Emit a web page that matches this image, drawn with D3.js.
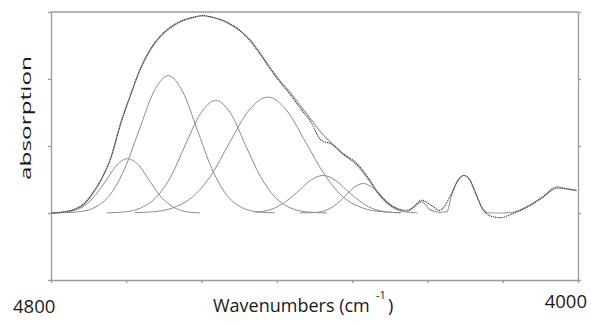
<!DOCTYPE html>
<html>
<head>
<meta charset="utf-8">
<script src="https://cdn.jsdelivr.net/npm/d3@7"></script>
<style>
  body { margin: 0; background: white; }
  svg { display: block; font-family: "Open Sans", sans-serif; background: white; }
  .axis path, .axis line { stroke: #9a9a9a; stroke-width: 1.3; }
  .frame { stroke: #9a9a9a; stroke-width: 1.3; }
  .peak { fill: none; stroke: #8c8c8c; stroke-width: 1; }
  .fit { fill: none; stroke: #a0a0a0; stroke-width: 1.2; }
  .measured { fill: none; stroke: #2a2a2a; stroke-width: 1.15; stroke-dasharray: 1 0.9; }
  .label { fill: #1a1a1a; }
</style>
</head>
<body>
<svg id="plot"></svg>
<script>
// etiquetas y ticks
const xLabels = ["4800", "4000"];
const yTicks = [-1, 0, 1, 2, 3];

// espectro medido (puntos)
const measuredWn = [4799, 4779, 4764, 4751, 4738, 4726, 4710, 4693, 4680, 4665, 4650, 4635, 4619, 4604, 4584, 4569, 4559, 4533, 4513, 4498, 4483, 4468, 4452, 4437, 4422, 4407, 4389, 4374, 4357, 4336, 4316, 4306, 4290, 4275, 4260, 4251, 4237, 4225, 4210, 4192, 4182, 4173, 4164, 4156, 4144, 4134, 4118, 4099, 4073, 4053, 4032, 4017, 4002];
const measuredAbs = [0, 0.02, 0.06, 0.13, 0.28, 0.46, 0.80, 1.38, 1.74, 2.14, 2.43, 2.63, 2.77, 2.86, 2.92, 2.95, 2.93, 2.85, 2.72, 2.57, 2.38, 2.16, 1.95, 1.77, 1.57, 1.38, 1.08, 1.03, 0.89, 0.74, 0.49, 0.34, 0.16, 0.07, 0.04, 0.08, 0.19, 0.13, 0.04, 0.29, 0.49, 0.56, 0.49, 0.31, 0.05, -0.04, -0.07, -0.01, 0.11, 0.24, 0.39, 0.36, 0.34];

// ajuste total (linea gris)
const fitWn = [4799, 4779, 4764, 4751, 4738, 4726, 4710, 4693, 4680, 4665, 4650, 4635, 4619, 4604, 4584, 4569, 4559, 4533, 4513, 4498, 4483, 4468, 4452, 4437, 4422, 4407, 4389, 4374, 4357, 4336, 4316, 4301, 4275, 4260, 4251, 4237, 4225, 4210, 4199, 4192, 4182, 4173, 4164, 4156, 4144, 4134, 4118, 4099, 4073, 4053, 4032, 4017, 4002];
const fitAbs = [0, 0.015, 0.05, 0.12, 0.27, 0.46, 0.80, 1.37, 1.74, 2.13, 2.42, 2.62, 2.76, 2.85, 2.92, 2.94, 2.93, 2.84, 2.72, 2.59, 2.39, 2.18, 1.97, 1.80, 1.61, 1.42, 1.19, 1.04, 0.88, 0.72, 0.47, 0.26, 0.05, 0.015, 0.07, 0.17, 0.05, 0.01, 0.02, 0.26, 0.49, 0.56, 0.49, 0.31, 0.05, 0, 0, 0.01, 0.12, 0.24, 0.37, 0.36, 0.33];

// componentes
const peak1Wn = [4798, 4782, 4765, 4749, 4733, 4716, 4700, 4684, 4667, 4651, 4635, 4618, 4602, 4586, 4574];
const peak1Abs = [0.002, 0.009, 0.036, 0.110, 0.263, 0.491, 0.715, 0.81, 0.715, 0.491, 0.263, 0.110, 0.036, 0.009, 0.003];
const peak2Wn = [4798, 4776, 4754, 4732, 4710, 4688, 4666, 4644, 4622, 4600, 4578, 4556, 4534, 4512, 4490, 4468, 4460];
const peak2Abs = [0.001, 0.005, 0.023, 0.090, 0.277, 0.666, 1.243, 1.809, 2.05, 1.809, 1.243, 0.666, 0.277, 0.090, 0.023, 0.005, 0.003];
const peak3Wn = [4715, 4709, 4686, 4664, 4641, 4618, 4596, 4573, 4550, 4527, 4505, 4482, 4459, 4436, 4414, 4391, 4381];
const peak3Abs = [0.002, 0.004, 0.019, 0.074, 0.227, 0.545, 1.019, 1.483, 1.68, 1.483, 1.019, 0.545, 0.227, 0.074, 0.019, 0.004, 0.002];
const peak4Wn = [4673, 4644, 4615, 4586, 4557, 4529, 4500, 4471, 4442, 4413, 4384, 4356, 4327, 4298, 4269];
const peak4Abs = [0.004, 0.019, 0.076, 0.234, 0.562, 1.049, 1.527, 1.73, 1.527, 1.049, 0.562, 0.234, 0.076, 0.019, 0.004];
const peak5Wn = [4490, 4478, 4460, 4442, 4423, 4405, 4387, 4369, 4351, 4332, 4314, 4296, 4278, 4270];
const peak5Abs = [0.010, 0.025, 0.076, 0.182, 0.340, 0.494, 0.56, 0.494, 0.340, 0.182, 0.076, 0.025, 0.006, 0.003];
const peak6Wn = [4422, 4403, 4390, 4378, 4365, 4352, 4339, 4326, 4313, 4300, 4287, 4274, 4261, 4248, 4244];
const peak6Abs = [0.001, 0.005, 0.019, 0.060, 0.143, 0.267, 0.388, 0.44, 0.388, 0.267, 0.143, 0.060, 0.019, 0.005, 0.003];

const width = 591;
const height = 325;
const area = {left: 51, right: 578, top: 12, bottom: 280};

const plot = d3.select("#plot")
    .attr("width", width)
    .attr("height", height);

const xScale = d3.scaleLinear()
    .domain([4800, 4000])
    .range([area.left, area.right]);

const yScale = d3.scaleLinear()
    .domain([-1, 3])
    .range([area.bottom, area.top]);

// 7 divisiones iguales en el eje x
const xTickValues = d3.range(0, 8).map((i) => 4800 - i * 800 / 7);

const line = d3.line()
    .x((d) => xScale(d[0]))
    .y((d) => yScale(d[1]))
    .curve(d3.curveMonotoneX);

// ejes
plot.append("g")
    .attr("class", "axis")
    .attr("transform", "translate(0," + area.bottom + ")")
    .call(d3.axisBottom(xScale).tickValues(xTickValues).tickSizeInner(3).tickSizeOuter(0).tickFormat(""));

plot.append("g")
    .attr("class", "axis")
    .attr("transform", "translate(" + area.left + ",0)")
    .call(d3.axisLeft(yScale).tickValues(yTicks).tickSizeInner(3).tickSizeOuter(0).tickFormat(""));

plot.append("g")
    .attr("class", "axis")
    .attr("transform", "translate(" + area.right + ",0)")
    .call(d3.axisRight(yScale).tickValues(yTicks).tickSizeInner(3).tickSizeOuter(0).tickFormat(""));

plot.append("line")
    .attr("class", "frame")
    .attr("x1", area.left)
    .attr("x2", area.right)
    .attr("y1", yScale(3))
    .attr("y2", yScale(3));

// componentes
const peaks = [
  [peak1Wn, peak1Abs],
  [peak2Wn, peak2Abs],
  [peak3Wn, peak3Abs],
  [peak4Wn, peak4Abs],
  [peak5Wn, peak5Abs],
  [peak6Wn, peak6Abs]
];

plot.selectAll("path.peak")
    .data(peaks)
    .enter()
    .append("path")
    .attr("class", "peak")
    .attr("d", (p) => line(d3.zip(p[0], p[1])));

plot.append("path")
    .attr("class", "fit")
    .attr("d", line(d3.zip(fitWn, fitAbs)));

plot.append("path")
    .attr("class", "measured")
    .attr("d", line(d3.zip(measuredWn, measuredAbs)));

// textos
plot.append("text")
    .attr("class", "label")
    .attr("transform", "translate(30.5,118) rotate(-90)")
    .attr("text-anchor", "middle")
    .attr("font-size", 14.5)
    .attr("textLength", 124)
    .attr("lengthAdjust", "spacingAndGlyphs")
    .text("absorption");

plot.append("text")
    .attr("class", "label")
    .attr("x", 13)
    .attr("y", 312.5)
    .attr("font-size", 18.5)
    .text(xLabels[0]);

plot.append("text")
    .attr("class", "label")
    .attr("x", 587)
    .attr("y", 308)
    .attr("text-anchor", "end")
    .attr("font-size", 18.5)
    .text(xLabels[1]);

plot.append("text")
    .attr("class", "label")
    .attr("x", 213)
    .attr("y", 312)
    .attr("font-size", 18)
    .text("Wavenumbers (cm");

plot.append("text")
    .attr("class", "label")
    .attr("x", 376)
    .attr("y", 299)
    .attr("font-size", 11)
    .text("-1");

plot.append("text")
    .attr("class", "label")
    .attr("x", 388)
    .attr("y", 312)
    .attr("font-size", 18)
    .text(")");
</script>
</body>
</html>
